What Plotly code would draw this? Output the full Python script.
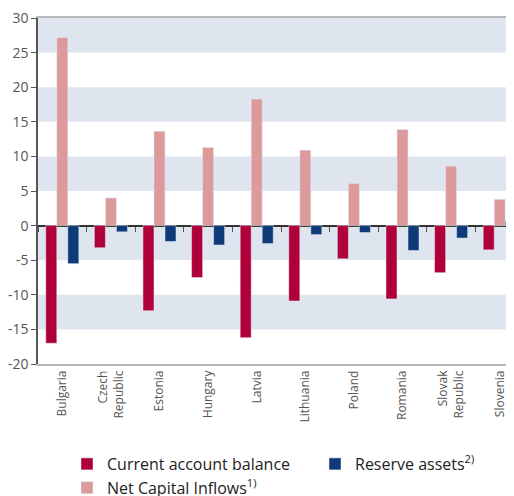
import plotly.graph_objects as go

categories = ["Bulgaria", "Czech<br>Republic", "Estonia", "Hungary", "Latvia",
              "Lithuania", "Poland", "Romania", "Slovak<br>Republic", "Slovenia"]
current_account = [-17.0, -3.2, -12.3, -7.5, -16.2, -10.9, -4.8, -10.6, -6.8, -3.5]
net_capital_inflows = [27.2, 4.0, 13.65, 11.3, 18.3, 10.9, 6.1, 13.9, 8.6, 3.8]
reserve_assets = [-5.5, -0.9, -2.3, -2.8, -2.6, -1.3, -1.0, -3.6, -1.8, 0.65]
y_tick_values = [30, 25, 20, 15, 10, 5, 0, -5, -10, -15, -20]
y_tick_labels = ["30", "25", "20", "15", "10", "5", "0", "-5", "-10", "-15", "-20"]
band_ranges = [(25, 30), (15, 20), (5, 10), (-5, 0), (-15, -10)]

FONT = "Open Sans"
W, H = 506, 488
L, T, B = 30, 10, 132
PW = W - L
fig = go.Figure()
fig.add_trace(go.Bar(x=categories, y=current_account, name="Current account balance",
                     marker_color="#b0003a", legend="legend"))
fig.add_trace(go.Bar(x=categories, y=net_capital_inflows, name="Net Capital Inflows<sup>1)</sup>",
                     marker_color="#dc9a9d", legend="legend"))
fig.add_trace(go.Bar(x=categories, y=reserve_assets, name="Reserve assets<sup>2)</sup>",
                     marker_color="#0e3a78", legend="legend2"))
# invisible trace to carry the category ticks on the zero line axis
fig.add_trace(go.Scatter(x=categories, y=[0] * len(categories), xaxis="x2", mode="lines",
                         line=dict(width=0), showlegend=False, hoverinfo="skip"))

for lo, hi in band_ranges:
    fig.add_shape(type="rect", xref="paper", yref="y", x0=0, x1=1, y0=lo, y1=hi,
                  fillcolor="#dfe5ef", line=dict(width=0), layer="below")

legend_common = dict(orientation="v", xref="paper", yref="container", xanchor="left",
                     yanchor="top", font=dict(size=16, color="#222222"),
                     traceorder="normal", itemclick=False, bgcolor="rgba(0,0,0,0)")

xr = [-0.5, 9.294]
fig.update_layout(
    width=W, height=H,
    margin=dict(l=L, r=0, t=T, b=B),
    paper_bgcolor="white", plot_bgcolor="white",
    barmode="group", bargap=0.32, bargroupgap=0,
    font=dict(family=FONT, color="#555555"),
    xaxis=dict(type="category", range=xr, showgrid=False, showline=True, linecolor="#b8b8b8",
               linewidth=1.5, mirror=True, ticks="", tickangle=-90, automargin=False,
               tickfont=dict(size=12, color="#555555")),
    xaxis2=dict(type="category", overlaying="x", anchor="free", position=0.4, range=xr,
                showgrid=False, showline=False, ticks="outside", tickson="boundaries",
                ticklen=5, tickwidth=1.2, tickcolor="#555555", showticklabels=False,
                automargin=False),
    yaxis=dict(range=[-20, 30], tickvals=y_tick_values, ticktext=y_tick_labels,
               showgrid=False, zeroline=True, zerolinecolor="#333333", zerolinewidth=1.5,
               showline=True, linecolor="#555555", linewidth=1.5, ticks="outside",
               ticklen=5, tickcolor="#555555", tickfont=dict(size=14, color="#555555"),
               automargin=False, ticklabeloverflow="allow"),
    legend=dict(x=(59 - L) / PW, y=1 - 439 / H, **legend_common),
    legend2=dict(x=(307 - L) / PW, y=1 - 439 / H, **legend_common),
    showlegend=True,
)
fig.write_html("out.html")
